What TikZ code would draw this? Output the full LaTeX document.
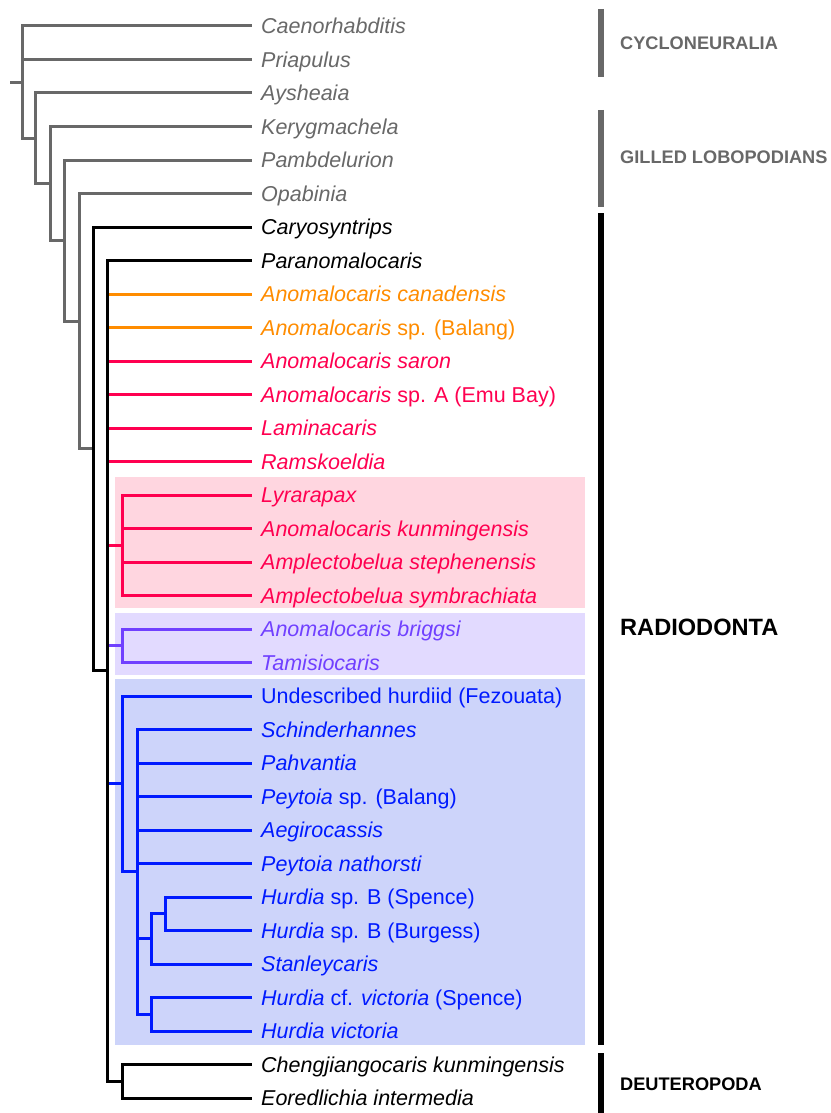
\documentclass[tikz,border=0pt]{standalone}
\usepackage{fontspec}
\setmainfont{Liberation Sans}
\definecolor{StemGray}{RGB}{104,104,104}
\definecolor{AnoOrange}{RGB}{255,140,0}
\definecolor{AmpRed}{RGB}{255,0,80}
\definecolor{TamPurple}{RGB}{112,64,255}
\definecolor{HurBlue}{RGB}{0,26,255}
\definecolor{AmpFill}{RGB}{255,214,224}
\definecolor{TamFill}{RGB}{226,218,255}
\definecolor{HurFill}{RGB}{205,212,250}
\newcommand{\taxon}[1]{\textit{#1}}

\begin{document}
\begin{tikzpicture}[
    x=1pt, y=-1pt,
    branch/.style={line width=3pt, line join=miter},
    leaf/.style={anchor=west, inner xsep=9pt, inner ysep=0pt,
        text height=15.4pt, text depth=0pt,
        font=\fontsize{21.5}{24}\selectfont},
    group/.style={anchor=west, inner sep=0pt,
        text height=13pt, text depth=0pt,
        font=\fontsize{18.2}{20}\selectfont\bfseries},
    bar/.style={line width=6pt}
]

\useasboundingbox (0,0) rectangle (830,1113);

% clade boxes
\fill[AmpFill] (115,477) rectangle (585,608);
\fill[TamFill] (115,613) rectangle (585,675);
\fill[HurFill] (115,679) rectangle (585,1045);

% leaves
\node[leaf, StemGray] (caen)  at (252,26)    {\taxon{Caenorhabditis}};
\node[leaf, StemGray] (pria)  at (252,59.5)  {\taxon{Priapulus}};
\node[leaf, StemGray] (ays)   at (252,93)    {\taxon{Aysheaia}};
\node[leaf, StemGray] (kery)  at (252,126.5) {\taxon{Kerygmachela}};
\node[leaf, StemGray] (pamb)  at (252,160)   {\taxon{Pambdelurion}};
\node[leaf, StemGray] (opab)  at (252,193.5) {\taxon{Opabinia}};
\node[leaf] (caryo) at (252,227)   {\taxon{Caryosyntrips}};
\node[leaf] (para)  at (252,260.5) {\taxon{Paranomalocaris}};
\node[leaf, AnoOrange] (acan) at (252,294)   {\taxon{Anomalocaris canadensis}};
\node[leaf, AnoOrange] (abal) at (252,327.5) {\taxon{Anomalocaris} sp. (Balang)};
\node[leaf, AmpRed] (asar)   at (252,361)   {\taxon{Anomalocaris saron}};
\node[leaf, AmpRed] (aemu)   at (252,394.5) {\taxon{Anomalocaris} sp. A (Emu Bay)};
\node[leaf, AmpRed] (lamin)  at (252,428)   {\taxon{Laminacaris}};
\node[leaf, AmpRed] (ramsk)  at (252,461.5) {\taxon{Ramskoeldia}};
\node[leaf, AmpRed] (lyra)   at (252,495)   {\taxon{Lyrarapax}};
\node[leaf, AmpRed] (akun)   at (252,528.5) {\taxon{Anomalocaris kunmingensis}};
\node[leaf, AmpRed] (asteph) at (252,562)   {\taxon{Amplectobelua stephenensis}};
\node[leaf, AmpRed] (asymb)  at (252,595.5) {\taxon{Amplectobelua symbrachiata}};
\node[leaf, TamPurple] (abrig) at (252,629)   {\taxon{Anomalocaris briggsi}};
\node[leaf, TamPurple] (tamis) at (252,662.5) {\taxon{Tamisiocaris}};
\node[leaf, HurBlue] (undes) at (252,696)    {Undescribed hurdiid (Fezouata)};
\node[leaf, HurBlue] (schin) at (252,729.5)  {\taxon{Schinderhannes}};
\node[leaf, HurBlue] (pahv)  at (252,763)    {\taxon{Pahvantia}};
\node[leaf, HurBlue] (peyb)  at (252,796.5)  {\taxon{Peytoia} sp. (Balang)};
\node[leaf, HurBlue] (aegir) at (252,830)    {\taxon{Aegirocassis}};
\node[leaf, HurBlue] (peyn)  at (252,863.5)  {\taxon{Peytoia nathorsti}};
\node[leaf, HurBlue] (hspen) at (252,897)    {\taxon{Hurdia} sp. B (Spence)};
\node[leaf, HurBlue] (hburg) at (252,930.5)  {\taxon{Hurdia} sp. B (Burgess)};
\node[leaf, HurBlue] (stan)  at (252,964)    {\taxon{Stanleycaris}};
\node[leaf, HurBlue] (hcfv)  at (252,997.5)  {\taxon{Hurdia} cf. \taxon{victoria} (Spence)};
\node[leaf, HurBlue] (hvic)  at (252,1031)   {\taxon{Hurdia victoria}};
\node[leaf] (cheng) at (252,1064.5) {\taxon{Chengjiangocaris kunmingensis}};
\node[leaf] (eored) at (252,1098)   {\taxon{Eoredlichia intermedia}};

% internal nodes
\coordinate (root)    at (10,82.14);
\coordinate (panCl)   at (22,82.14);
\coordinate (aysCl)   at (35,138.28);
\coordinate (keryCl)  at (50,183.55);
\coordinate (pambCl)  at (64,240.61);
\coordinate (opabCl)  at (79,321.22);
\coordinate (caryCl)  at (93,448.94);
\coordinate (radCl)   at (107,670.88);
\coordinate (ampCl)   at (122,545.25);
\coordinate (tamCl)   at (122,645.75);
\coordinate (hurCl)   at (122,783.94);
\coordinate (schinCl) at (137,871.88);
\coordinate (stanCl)  at (151,938.88);
\coordinate (hvicCl)  at (151,1014.25);
\coordinate (hsbCl)   at (165,913.75);
\coordinate (deutCl)  at (122,1081.25);

% stem lineages
\draw[branch, StemGray] (root) -- (panCl);
\draw[branch, StemGray] (panCl) |- (caen.west);
\draw[branch, StemGray] (panCl) |- (pria.west);
\draw[branch, StemGray] (panCl) |- (aysCl);
\draw[branch, StemGray] (aysCl) |- (ays.west);
\draw[branch, StemGray] (aysCl) |- (keryCl);
\draw[branch, StemGray] (keryCl) |- (kery.west);
\draw[branch, StemGray] (keryCl) |- (pambCl);
\draw[branch, StemGray] (pambCl) |- (pamb.west);
\draw[branch, StemGray] (pambCl) |- (opabCl);
\draw[branch, StemGray] (opabCl) |- (opab.west);
\draw[branch, StemGray] (opabCl) |- (caryCl);

% anomalocaridids
\draw[branch, AnoOrange] (radCl |- acan.west) -- (acan.west);
\draw[branch, AnoOrange] (radCl |- abal.west) -- (abal.west);
\draw[branch, AmpRed] (radCl |- asar.west) -- (asar.west);
\draw[branch, AmpRed] (radCl |- aemu.west) -- (aemu.west);
\draw[branch, AmpRed] (radCl |- lamin.west) -- (lamin.west);
\draw[branch, AmpRed] (radCl |- ramsk.west) -- (ramsk.west);
\draw[branch, AmpRed] (radCl |- ampCl) -- (ampCl);
\draw[branch, AmpRed] (ampCl) |- (lyra.west);
\draw[branch, AmpRed] (ampCl) |- (akun.west);
\draw[branch, AmpRed] (ampCl) |- (asteph.west);
\draw[branch, AmpRed] (ampCl) |- (asymb.west);

% tamisiocaridids
\draw[branch, TamPurple] (radCl |- tamCl) -- (tamCl);
\draw[branch, TamPurple] (tamCl) |- (abrig.west);
\draw[branch, TamPurple] (tamCl) |- (tamis.west);

% hurdiids
\draw[branch, HurBlue] (radCl |- hurCl) -- (hurCl);
\draw[branch, HurBlue] (hurCl) |- (undes.west);
\draw[branch, HurBlue] (hurCl) |- (schinCl);
\draw[branch, HurBlue] (schinCl) |- (schin.west);
\draw[branch, HurBlue] (schinCl) |- (pahv.west);
\draw[branch, HurBlue] (schinCl) |- (peyb.west);
\draw[branch, HurBlue] (schinCl) |- (aegir.west);
\draw[branch, HurBlue] (schinCl) |- (peyn.west);
\draw[branch, HurBlue] (schinCl) |- (stanCl);
\draw[branch, HurBlue] (schinCl) |- (hvicCl);
\draw[branch, HurBlue] (stanCl) |- (hsbCl);
\draw[branch, HurBlue] (stanCl) |- (stan.west);
\draw[branch, HurBlue] (hsbCl) |- (hspen.west);
\draw[branch, HurBlue] (hsbCl) |- (hburg.west);
\draw[branch, HurBlue] (hvicCl) |- (hcfv.west);
\draw[branch, HurBlue] (hvicCl) |- (hvic.west);

% black backbone
\draw[branch] (caryCl) |- (caryo.west);
\draw[branch] (caryCl) |- (radCl);
\draw[branch] (radCl) |- (para.west);
\draw[branch] (radCl) |- (deutCl);
\draw[branch] (deutCl) |- (cheng.west);
\draw[branch] (deutCl) |- (eored.west);

% group bars
\draw[bar, StemGray] (601,9) -- (601,77);
\draw[bar, StemGray] (601,110) -- (601,207);
\draw[bar] (601,213) -- (601,1045);
\draw[bar] (601,1053) -- (601,1113);

\node[group, StemGray] (cyclo) at (620,43.5) {CYCLONEURALIA};
\node[group, StemGray] (gilled) at (620,157) {GILLED LOBOPODIANS};
\node[group, text height=16.9pt, font=\fontsize{23.6}{26}\selectfont\bfseries]
    (radio) at (620,627.5) {RADIODONTA};
\node[group] (deutero) at (620,1083.5) {DEUTEROPODA};

\end{tikzpicture}
\end{document}
